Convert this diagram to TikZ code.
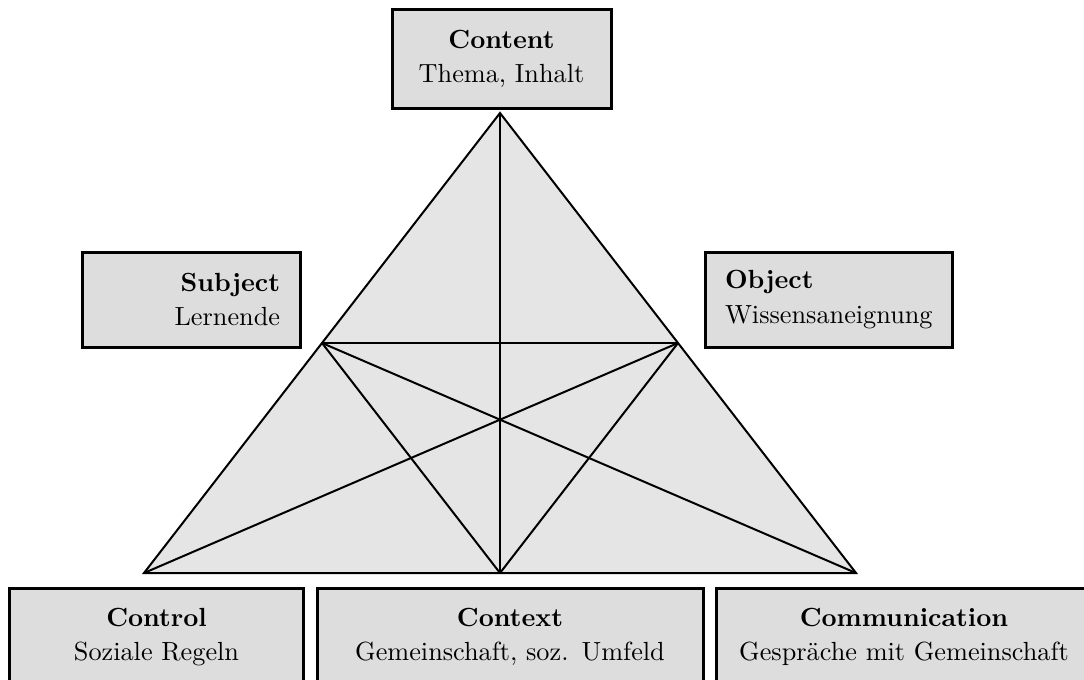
\documentclass[tikz,border=0pt]{standalone}
\usepackage{fontspec}
\definecolor{boxfill}{gray}{0.865}
\definecolor{trifill}{gray}{0.9}
\begin{document}
\begin{tikzpicture}[x=0.4pt,y=-0.4pt,
  box/.style={draw=black, line width=1.2pt, fill=boxfill, inner xsep=8pt,
    inner ysep=0pt, font=\fontsize{10.5}{13.8}\selectfont},
  edge/.style={line width=0.8pt, line join=miter}]
\useasboundingbox (0,0) rectangle (1084,679);

% triangle corners and side midpoints
\coordinate (A) at (500,113);
\coordinate (B) at (144,573);
\coordinate (C) at (856,573);
\coordinate (AB) at (322,343);
\coordinate (AC) at (678,343);
\coordinate (BC) at (500,573);

\filldraw[edge, fill=trifill] (A) -- (B) -- (C) -- cycle;
\draw[edge] (AB) -- (AC);
\draw[edge] (A) -- (BC);
\draw[edge] (AB) -- (BC);
\draw[edge] (AC) -- (BC);
\draw[edge] (B) -- (AC);
\draw[edge] (C) -- (AB);

% labelled boxes
\node[box, text width=71.6pt, minimum height=39.2pt, align=center] (content) at (501.5,59)
  {\textbf{Content}\\Thema, Inhalt};
\node[box, text width=71.2pt, minimum height=38pt, align=right] (subject) at (191,299.5)
  {\textbf{Subject}\\Lernende};
\node[box, text width=82.8pt, minimum height=38pt, align=left] (object) at (828.5,299.5)
  {\textbf{Object}\\Wissensaneignung};
\node[box, text width=101.2pt, minimum height=39.2pt, align=center] (control) at (156.5,637)
  {\textbf{Control}\\Soziale Regeln};
\node[box, text width=138.4pt, minimum height=39.2pt, align=center] (context) at (510,637)
  {\textbf{Context}\\Gemeinschaft, soz. Umfeld};
\node[box, text width=134.4pt, minimum height=39.2pt, align=center] (communication) at (904,637)
  {\textbf{Communication}\\Gespräche mit Gemeinschaft};
\end{tikzpicture}
\end{document}
